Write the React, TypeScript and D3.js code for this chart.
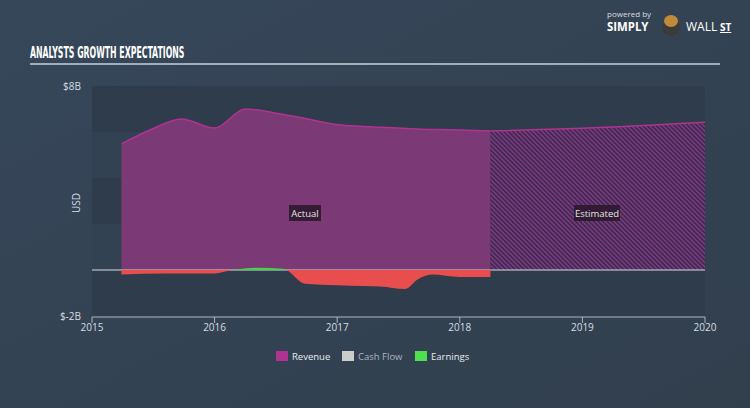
import React from "react";
import * as d3 from "d3";

const years = [2015, 2016, 2017, 2018, 2019, 2020];
const yTicks = ["$8B", "$-2B"];

// Revenue (billions USD), actual
const revenueActualT = [2015.24, 2015.49, 2015.73, 2016.0, 2016.25, 2016.49, 2016.7, 2017.03, 2017.3, 2017.65, 2018.0, 2018.25];
const revenueActualV = [5.48, 6.13, 6.57, 6.17, 7.0, 6.83, 6.63, 6.3, 6.22, 6.13, 6.09, 6.04];
// Revenue estimates
const revenueEstT = [2018.25, 2019.0, 2020.0];
const revenueEstV = [6.04, 6.16, 6.42];

// Earnings (billions USD)
const earningsT = [2015.24, 2015.6, 2016.0, 2016.14, 2016.36, 2016.56, 2016.74, 2017.1, 2017.35, 2017.55, 2017.66, 2017.77, 2018.0, 2018.25];
const earningsV = [-0.2, -0.15, -0.15, 0.0, 0.1, 0.05, -0.6, -0.68, -0.72, -0.83, -0.4, -0.2, -0.3, -0.3];

const legendItems = ["Revenue", "Cash Flow", "Earnings"];
const legendColors = ["#b0338f", "#cccccc", "#4ee04e"];

export default function App() {
  const W = 750, H = 408;
  const x = d3.scaleLinear().domain([2015, 2020]).range([92, 705]);
  const y = d3.scaleLinear().domain([-2, 8]).range([316, 86]);
  const y0 = y(0);

  const revActual = revenueActualT.map((t, i) => [t, revenueActualV[i]] as [number, number]);
  const revEst = revenueEstT.map((t, i) => [t, revenueEstV[i]] as [number, number]);
  const earn = earningsT.map((t, i) => [t, earningsV[i]] as [number, number]);

  const area = d3.area<[number, number]>().x(d => x(d[0])).y0(y0).y1(d => y(d[1])).curve(d3.curveMonotoneX);
  const line = d3.line<[number, number]>().x(d => x(d[0])).y(d => y(d[1])).curve(d3.curveMonotoneX);

  const bands = [8, 6, 4, 2, 0].map((v, i) => ({ top: y(v), bottom: y(v - 2), dark: i % 2 === 0 }));
  const font = "'Open Sans', 'DejaVu Sans', sans-serif";

  return (
    <svg width={W} height={H} style={{ position: "absolute", left: 0, top: 0 }}>
      <defs>
        <linearGradient id="bg" x1="0" y1="0" x2="1" y2="1">
          <stop offset="0" stopColor="#36475a" />
          <stop offset="1" stopColor="#313f4d" />
        </linearGradient>
        <pattern id="hatch" patternUnits="userSpaceOnUse" width="3.2" height="3.2" patternTransform="rotate(-45)">
          <rect width="3.2" height="3.2" fill="#7e3582" />
          <rect width="1.6" height="3.2" fill="#3a2e4c" />
        </pattern>
        <clipPath id="above"><rect x="0" y="0" width={W} height={y0} /></clipPath>
        <clipPath id="below"><rect x="0" y={y0} width={W} height={H} /></clipPath>
      </defs>
      <rect width={W} height={H} fill="url(#bg)" />

      {/* header */}
      <text x={30} y={58} fill="#ffffff" fontFamily="'Liberation Sans Narrow', 'DejaVu Sans Condensed', sans-serif" fontWeight="bold" fontSize={15.5} transform="translate(30,0) scale(0.56,1) translate(-30,0)">ANALYSTS GROWTH EXPECTATIONS</text>
      <line x1={30} x2={720} y1={64} y2={64} stroke="#c8d0da" strokeWidth={1.5} />
      <text x={607} y={17} fill="#d8dde3" fontFamily={font} fontSize={8}>powered by</text>
      <text x={607} y={31} fill="#ffffff" fontFamily={font} fontWeight="bold" fontSize={12} transform="translate(607,0) scale(0.95,1) translate(-607,0)">SIMPLY</text>
      <circle cx={671} cy={27} r={9} fill="#3b3b3b" />
      <ellipse cx={671} cy={21} rx={7} ry={6} fill="#c08a3a" />
      <text x={686} y={31} fill="#ffffff" fontFamily={font} fontSize={12}>WALL</text>
      <text x={720} y={31} fill="#ffffff" fontFamily={font} fontWeight="bold" fontSize={10} textDecoration="underline">ST</text>

      {/* plot bands */}
      {bands.map((b, i) => (
        <rect key={i} x={92} y={b.top} width={705 - 92} height={b.bottom - b.top} fill={b.dark ? "#2e3c4b" : "#324253"} />
      ))}

      {/* revenue */}
      <path d={area(revActual) || ""} fill="#7b3a76" />
      <path d={area(revEst) || ""} fill="url(#hatch)" />
      <path d={line(revActual) || ""} fill="none" stroke="#b0338f" strokeWidth={1.5} />
      <path d={line(revEst) || ""} fill="none" stroke="#b0338f" strokeWidth={1.5} />

      {/* zero line */}
      <line x1={92} x2={705} y1={y0} y2={y0} stroke="#d6dbe2" strokeWidth={1.2} />

      {/* earnings */}
      <path d={area(earn) || ""} fill="#e84e4e" clipPath="url(#below)" />
      <path d={area(earn) || ""} fill="#4bd04b" clipPath="url(#above)" />

      {/* labels */}
      <rect x={289} y={205} width={32} height={16} fill="#2c1a2e" opacity={0.9} />
      <text x={305} y={216.5} textAnchor="middle" fill="#e8e4ea" fontFamily={font} fontSize={9.5}>Actual</text>
      <rect x={574} y={205} width={46} height={16} fill="#2c1a2e" opacity={0.9} />
      <text x={597} y={216.5} textAnchor="middle" fill="#e8e4ea" fontFamily={font} fontSize={9.5}>Estimated</text>

      {/* y axis */}
      <text x={81} y={90} textAnchor="end" fill="#d8dde3" fontFamily={font} fontSize={10}>{yTicks[0]}</text>
      <text x={81} y={320} textAnchor="end" fill="#d8dde3" fontFamily={font} fontSize={10}>{yTicks[1]}</text>
      <text transform="translate(80,203) rotate(-90)" textAnchor="middle" fill="#d8dde3" fontFamily={font} fontSize={10}>USD</text>

      {/* x axis */}
      <line x1={92} x2={705} y1={317} y2={317} stroke="#aab4c0" strokeWidth={1} />
      {years.map(yr => (
        <g key={yr}>
          <line x1={x(yr)} x2={x(yr)} y1={317} y2={323} stroke="#aab4c0" strokeWidth={1} />
          <text x={x(yr)} y={331} textAnchor="middle" fill="#d8dde3" fontFamily={font} fontSize={10}>{yr}</text>
        </g>
      ))}

      {/* legend */}
      {legendItems.map((name, i) => {
        const lx = [276, 342, 415][i];
        return (
          <g key={name}>
            <rect x={lx} y={351} width={12} height={10} fill={legendColors[i]} />
            <text x={lx + 16} y={360} fill={i === 1 ? "#aab4c0" : "#e8ecf0"} fontFamily={font} fontSize={9.5}>{name}</text>
          </g>
        );
      })}
    </svg>
  );
}
